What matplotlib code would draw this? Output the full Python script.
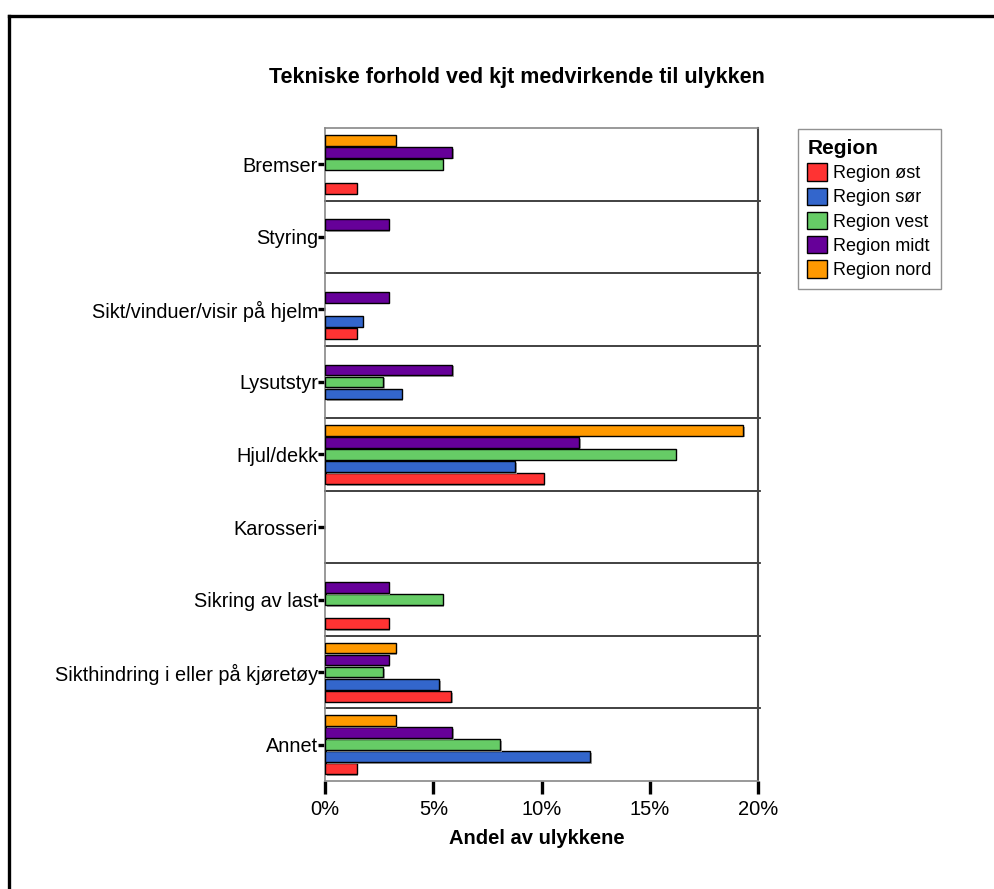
import matplotlib
matplotlib.use("Agg")
import matplotlib.pyplot as plt
import matplotlib.patheffects as pe
from matplotlib.lines import Line2D
from matplotlib.patches import Patch
import numpy as np

plt.rcParams['font.family'] = ['Liberation Sans', 'DejaVu Sans']

categories = ["Bremser", "Styring", "Sikt/vinduer/visir på hjelm", "Lysutstyr",
              "Hjul/dekk", "Karosseri", "Sikring av last",
              "Sikthindring i eller på kjøretøy", "Annet"]
regions = ["Region øst", "Region sør", "Region vest", "Region midt", "Region nord"]
colors = ["#FF3333", "#3366CC", "#66CC66", "#660099", "#FF9900"]

# share of accidents (%) per category, one list per region
region_ost = [1.46, 0.0, 1.46, 0.0, 10.1, 0.0, 2.94, 5.81, 1.46]
region_sor = [0.0, 0.0, 1.74, 3.54, 8.77, 0.0, 0.0, 5.26, 12.23]
region_vest = [5.43, 0.0, 0.0, 2.69, 16.18, 0.0, 5.43, 2.69, 8.09]
region_midt = [5.88, 2.94, 2.94, 5.88, 11.74, 0.0, 2.94, 2.94, 5.88]
region_nord = [3.26, 0.0, 0.0, 0.0, 19.3, 0.0, 0.0, 3.26, 3.26]
series = [region_ost, region_sor, region_vest, region_midt, region_nord]

xticks = [0, 5, 10, 15, 20]
xticklabels = ["0%", "5%", "10%", "15%", "20%"]

W, H = 994, 889
fig = plt.figure(figsize=(W / 100, H / 100), dpi=100)
ax = fig.add_axes([325 / W, 1 - 781 / H, (758.3 - 325) / W, (781 - 128) / H])

n = len(categories)
ypos = np.arange(n)[::-1]  # first category at the top
pitch = 0.1655
bh = 0.147
shadow = [pe.SimplePatchShadow(offset=(1.2, -1.2), shadow_rgbFace="#999999", alpha=0.9),
          pe.Normal()]
for k, (vals, col) in enumerate(zip(series, colors)):
    off = (k - 2) * pitch
    for y, v in zip(ypos, vals):
        if v <= 0:
            continue
        b = ax.barh(y + off, v, height=bh, color=col, edgecolor="black",
                    linewidth=1.0, zorder=3)
        for p in b:
            p.set_path_effects(shadow)

ax.set_xlim(0, 20)
ax.set_ylim(-0.5, n - 0.5)

# category separators
for b in np.arange(0.5, n - 0.5, 1.0):
    ax.plot([0, 1.005], [b, b], transform=ax.get_yaxis_transform(),
            color="#333333", linewidth=1.3, zorder=2, clip_on=False)

for s in ["top", "bottom", "left"]:
    ax.spines[s].set_color("#888888")
    ax.spines[s].set_linewidth(1.2)
ax.spines["right"].set_color("#444444")
ax.spines["right"].set_linewidth(1.5)

ax.set_xticks(xticks)
ax.set_xticklabels(xticklabels, fontsize=14.5)
ax.set_yticks(ypos)
ax.set_yticklabels(categories, fontsize=14.3)
ax.tick_params(axis="x", length=9, width=2.4, color="black", pad=5)
ax.tick_params(axis="y", length=5, width=2.4, color="black", pad=0)

fig.text(517 / W, 1 - 78 / H, "Tekniske forhold ved kjt medvirkende til ulykken",
         ha="center", va="center", fontsize=15.5, fontweight="bold")
fig.text(537 / W, 1 - 838 / H, "Andel av ulykkene", ha="center", va="center",
         fontsize=14.5, fontweight="bold")

handles = [Patch(facecolor=c, edgecolor="black", linewidth=1.0) for c in colors]
leg = fig.legend(handles, regions, title="Region", loc="upper left",
                 bbox_to_anchor=(797.5 / W, 1 - 129 / H), fontsize=13,
                 title_fontsize=15, frameon=True, fancybox=False,
                 edgecolor="#777777", handlelength=1.1, handleheight=1.1,
                 handletextpad=0.3, labelspacing=0.3, borderpad=0.55,
                 borderaxespad=0)
leg.get_title().set_fontweight("bold")
leg._legend_box.align = "left"
leg.get_frame().set_linewidth(1.0)

# page frame along the top and left edges
fig.add_artist(Line2D([9 / W, 1.0], [1 - 16 / H, 1 - 16 / H], transform=fig.transFigure,
                      color="black", linewidth=2.4))
fig.add_artist(Line2D([9 / W, 9 / W], [0.0, 1 - 16 / H], transform=fig.transFigure,
                      color="black", linewidth=2.4))

fig.savefig("out.png", dpi=100, facecolor="white")
